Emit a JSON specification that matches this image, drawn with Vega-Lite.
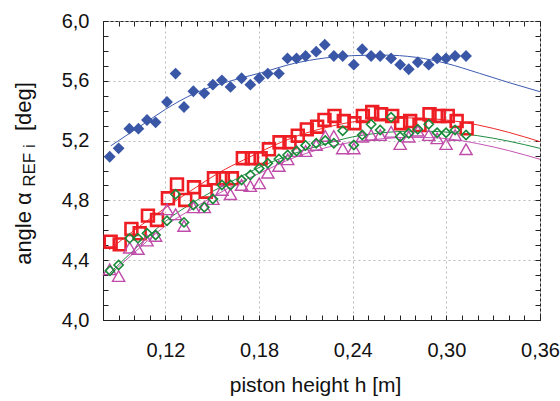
{
  "$schema": "https://vega.github.io/schema/vega-lite/v6.json",
  "width": 437,
  "height": 299,
  "autosize": "none",
  "padding": {"left": 103, "top": 21, "right": 20, "bottom": 81},
  "background": "white",
  "config": {
    "view": {"stroke": "#222", "strokeWidth": 1},
    "font": "Liberation Sans",
    "axis": {"labelFont": "Liberation Sans", "titleFont": "Liberation Sans", "labelColor": "#111", "titleColor": "#111", "titleFontWeight": "normal", "tickColor": "#222", "domainColor": "#222"}
  },
  "datasets": {
    "fit": [
      {"s": "B", "h": 0.085, "a": 5.165}, {"s": "B", "h": 0.1067, "a": 5.316}, {"s": "B", "h": 0.12, "a": 5.409}, {"s": "B", "h": 0.1387, "a": 5.516}, {"s": "B", "h": 0.16, "a": 5.594}, {"s": "B", "h": 0.1814, "a": 5.654}, {"s": "B", "h": 0.2027, "a": 5.717}, {"s": "B", "h": 0.2219, "a": 5.752}, {"s": "B", "h": 0.2394, "a": 5.768}, {"s": "B", "h": 0.2593, "a": 5.772}, {"s": "B", "h": 0.2806, "a": 5.757}, {"s": "B", "h": 0.2998, "a": 5.717}, {"s": "B", "h": 0.3212, "a": 5.65}, {"s": "B", "h": 0.3404, "a": 5.587}, {"s": "B", "h": 0.36, "a": 5.527},
      {"s": "R", "h": 0.084, "a": 4.47}, {"s": "R", "h": 0.10, "a": 4.60}, {"s": "R", "h": 0.12, "a": 4.75}, {"s": "R", "h": 0.14, "a": 4.89}, {"s": "R", "h": 0.155, "a": 4.99}, {"s": "R", "h": 0.17, "a": 5.07}, {"s": "R", "h": 0.19, "a": 5.17}, {"s": "R", "h": 0.206, "a": 5.237}, {"s": "R", "h": 0.22, "a": 5.28}, {"s": "R", "h": 0.24, "a": 5.325}, {"s": "R", "h": 0.26, "a": 5.348}, {"s": "R", "h": 0.275, "a": 5.352}, {"s": "R", "h": 0.29, "a": 5.347}, {"s": "R", "h": 0.30, "a": 5.338}, {"s": "R", "h": 0.32, "a": 5.305}, {"s": "R", "h": 0.34, "a": 5.255}, {"s": "R", "h": 0.36, "a": 5.193},
      {"s": "G", "h": 0.084, "a": 4.31}, {"s": "G", "h": 0.10, "a": 4.47}, {"s": "G", "h": 0.12, "a": 4.66}, {"s": "G", "h": 0.14, "a": 4.80}, {"s": "G", "h": 0.16, "a": 4.914}, {"s": "G", "h": 0.18, "a": 5.02}, {"s": "G", "h": 0.2027, "a": 5.115}, {"s": "G", "h": 0.22, "a": 5.17}, {"s": "G", "h": 0.24, "a": 5.225}, {"s": "G", "h": 0.26, "a": 5.253}, {"s": "G", "h": 0.275, "a": 5.263}, {"s": "G", "h": 0.29, "a": 5.262}, {"s": "G", "h": 0.30, "a": 5.257}, {"s": "G", "h": 0.32, "a": 5.233}, {"s": "G", "h": 0.34, "a": 5.196}, {"s": "G", "h": 0.36, "a": 5.148},
      {"s": "M", "h": 0.084, "a": 4.30}, {"s": "M", "h": 0.10, "a": 4.45}, {"s": "M", "h": 0.12, "a": 4.63}, {"s": "M", "h": 0.14, "a": 4.76}, {"s": "M", "h": 0.16, "a": 4.88}, {"s": "M", "h": 0.18, "a": 4.98}, {"s": "M", "h": 0.2059, "a": 5.10}, {"s": "M", "h": 0.22, "a": 5.145}, {"s": "M", "h": 0.24, "a": 5.19}, {"s": "M", "h": 0.26, "a": 5.213}, {"s": "M", "h": 0.275, "a": 5.222}, {"s": "M", "h": 0.29, "a": 5.22}, {"s": "M", "h": 0.30, "a": 5.213}, {"s": "M", "h": 0.32, "a": 5.18}, {"s": "M", "h": 0.34, "a": 5.133}, {"s": "M", "h": 0.36, "a": 5.075}
    ],
    "blue": [
      {"h": 0.0843, "a": 5.092}, {"h": 0.090, "a": 5.148}, {"h": 0.0969, "a": 5.280}, {"h": 0.1027, "a": 5.280}, {"h": 0.1082, "a": 5.338}, {"h": 0.1137, "a": 5.322}, {"h": 0.121, "a": 5.458}, {"h": 0.1265, "a": 5.648}, {"h": 0.1319, "a": 5.425}, {"h": 0.1379, "a": 5.530}, {"h": 0.1449, "a": 5.516}, {"h": 0.1504, "a": 5.574}, {"h": 0.1562, "a": 5.603}, {"h": 0.1617, "a": 5.559}, {"h": 0.1688, "a": 5.617}, {"h": 0.1744, "a": 5.574}, {"h": 0.1801, "a": 5.617}, {"h": 0.1856, "a": 5.648}, {"h": 0.1927, "a": 5.648}, {"h": 0.1982, "a": 5.750}, {"h": 0.2040, "a": 5.750}, {"h": 0.2098, "a": 5.766}, {"h": 0.2166, "a": 5.795}, {"h": 0.2221, "a": 5.841}, {"h": 0.2279, "a": 5.766}, {"h": 0.2336, "a": 5.766}, {"h": 0.2407, "a": 5.708}, {"h": 0.2461, "a": 5.811}, {"h": 0.2518, "a": 5.766}, {"h": 0.2576, "a": 5.766}, {"h": 0.2646, "a": 5.750}, {"h": 0.2704, "a": 5.708}, {"h": 0.2759, "a": 5.677}, {"h": 0.2817, "a": 5.724}, {"h": 0.2887, "a": 5.708}, {"h": 0.2941, "a": 5.750}, {"h": 0.2998, "a": 5.750}, {"h": 0.3056, "a": 5.766}, {"h": 0.3126, "a": 5.766}
    ],
    "red": [
      {"h": 0.0849, "a": 4.524}, {"h": 0.0907, "a": 4.506}, {"h": 0.0982, "a": 4.609}, {"h": 0.1035, "a": 4.580}, {"h": 0.1088, "a": 4.698}, {"h": 0.1146, "a": 4.669}, {"h": 0.1216, "a": 4.814}, {"h": 0.1274, "a": 4.907}, {"h": 0.1327, "a": 4.803}, {"h": 0.1383, "a": 4.888}, {"h": 0.1458, "a": 4.858}, {"h": 0.1511, "a": 4.948}, {"h": 0.1568, "a": 4.948}, {"h": 0.1626, "a": 4.948}, {"h": 0.1696, "a": 5.082}, {"h": 0.1754, "a": 5.082}, {"h": 0.1810, "a": 5.082}, {"h": 0.1863, "a": 5.142}, {"h": 0.1931, "a": 5.189}, {"h": 0.1995, "a": 5.189}, {"h": 0.2048, "a": 5.233}, {"h": 0.2106, "a": 5.275}, {"h": 0.2172, "a": 5.293}, {"h": 0.2219, "a": 5.338}, {"h": 0.2283, "a": 5.365}, {"h": 0.2343, "a": 5.331}, {"h": 0.2411, "a": 5.316}, {"h": 0.2465, "a": 5.365}, {"h": 0.2525, "a": 5.391}, {"h": 0.2582, "a": 5.376}, {"h": 0.2653, "a": 5.365}, {"h": 0.2710, "a": 5.316}, {"h": 0.2768, "a": 5.331}, {"h": 0.2828, "a": 5.304}, {"h": 0.2892, "a": 5.376}, {"h": 0.2951, "a": 5.365}, {"h": 0.3009, "a": 5.365}, {"h": 0.3066, "a": 5.331}, {"h": 0.3130, "a": 5.282}
    ],
    "green": [
      {"h": 0.0845, "a": 4.33}, {"h": 0.090, "a": 4.368}, {"h": 0.0971, "a": 4.546}, {"h": 0.1024, "a": 4.546}, {"h": 0.1082, "a": 4.580}, {"h": 0.1137, "a": 4.569}, {"h": 0.121, "a": 4.664}, {"h": 0.1265, "a": 4.841}, {"h": 0.1319, "a": 4.653}, {"h": 0.1379, "a": 4.769}, {"h": 0.1449, "a": 4.754}, {"h": 0.1504, "a": 4.809}, {"h": 0.1562, "a": 4.903}, {"h": 0.1617, "a": 4.903}, {"h": 0.1688, "a": 4.936}, {"h": 0.1744, "a": 4.970}, {"h": 0.1801, "a": 5.014}, {"h": 0.1856, "a": 5.048}, {"h": 0.1927, "a": 5.077}, {"h": 0.1983, "a": 5.104}, {"h": 0.2040, "a": 5.13}, {"h": 0.2098, "a": 5.168}, {"h": 0.2166, "a": 5.182}, {"h": 0.2224, "a": 5.20}, {"h": 0.2279, "a": 5.182}, {"h": 0.2336, "a": 5.266}, {"h": 0.2407, "a": 5.171}, {"h": 0.2461, "a": 5.237}, {"h": 0.2518, "a": 5.309}, {"h": 0.2576, "a": 5.271}, {"h": 0.2646, "a": 5.356}, {"h": 0.2704, "a": 5.226}, {"h": 0.2759, "a": 5.249}, {"h": 0.2817, "a": 5.276}, {"h": 0.2887, "a": 5.309}, {"h": 0.2941, "a": 5.253}, {"h": 0.2998, "a": 5.253}, {"h": 0.3056, "a": 5.271}, {"h": 0.3126, "a": 5.237}
    ],
    "mag": [
      {"h": 0.0843, "a": 4.339}, {"h": 0.090, "a": 4.294}, {"h": 0.0971, "a": 4.484}, {"h": 0.1024, "a": 4.475}, {"h": 0.1082, "a": 4.531}, {"h": 0.1137, "a": 4.562}, {"h": 0.121, "a": 4.740}, {"h": 0.1265, "a": 4.707}, {"h": 0.1319, "a": 4.629}, {"h": 0.1379, "a": 4.754}, {"h": 0.1449, "a": 4.754}, {"h": 0.1504, "a": 4.809}, {"h": 0.1562, "a": 4.870}, {"h": 0.1617, "a": 4.841}, {"h": 0.1688, "a": 4.903}, {"h": 0.1744, "a": 4.896}, {"h": 0.1801, "a": 4.914}, {"h": 0.1856, "a": 4.985}, {"h": 0.1927, "a": 5.030}, {"h": 0.1983, "a": 5.075}, {"h": 0.2040, "a": 5.130}, {"h": 0.2098, "a": 5.130}, {"h": 0.2166, "a": 5.171}, {"h": 0.2224, "a": 5.231}, {"h": 0.2279, "a": 5.231}, {"h": 0.2336, "a": 5.148}, {"h": 0.2407, "a": 5.148}, {"h": 0.2461, "a": 5.226}, {"h": 0.2518, "a": 5.237}, {"h": 0.2576, "a": 5.237}, {"h": 0.2646, "a": 5.259}, {"h": 0.2704, "a": 5.177}, {"h": 0.2759, "a": 5.226}, {"h": 0.2817, "a": 5.266}, {"h": 0.2887, "a": 5.237}, {"h": 0.2941, "a": 5.215}, {"h": 0.2998, "a": 5.177}, {"h": 0.3056, "a": 5.237}, {"h": 0.3126, "a": 5.142}
    ]
  },
  "layer": [
    {
      "data": {"name": "fit"},
      "mark": {"type": "line", "interpolate": "monotone", "strokeWidth": 1, "clip": true},
      "encoding": {
        "x": {
          "field": "h", "type": "quantitative",
          "scale": {"domain": [0.08, 0.36], "nice": false, "zero": false},
          "axis": {
            "orient": "bottom",
            "values": [0.08, 0.09, 0.10, 0.11, 0.12, 0.13, 0.14, 0.15, 0.16, 0.17, 0.18, 0.19, 0.20, 0.21, 0.22, 0.23, 0.24, 0.25, 0.26, 0.27, 0.28, 0.29, 0.30, 0.31, 0.32, 0.33, 0.34, 0.35, 0.36],
            "labelExpr": "round(datum.value*100) % 6 == 0 ? replace(format(datum.value, '.2f'), '.', ',') : ''",
            "labelFontSize": 20, "labelPadding": 25, "labelBaseline": "top", "labelOverlap": false, "labelFlush": false,
            "tickSize": -5, "domain": true,
            "grid": true, "gridColor": "#bbbbbb", "gridDash": [2, 3],
            "gridOpacity": {"condition": {"test": "round(datum.value*100) % 6 == 0", "value": 1}, "value": 0},
            "title": "piston height h [m]", "titleFontSize": 21, "titleX": 212, "titleY": 65, "titleAlign": "center", "titleBaseline": "middle"
          }
        },
        "y": {
          "field": "a", "type": "quantitative",
          "scale": {"domain": [4, 6], "nice": false, "zero": false},
          "axis": {
            "orient": "left",
            "values": [4.0, 4.1, 4.2, 4.3, 4.4, 4.5, 4.6, 4.7, 4.8, 4.9, 5.0, 5.1, 5.2, 5.3, 5.4, 5.5, 5.6, 5.7, 5.8, 5.9, 6.0],
            "labelExpr": "round(datum.value*10) % 4 == 0 ? replace(format(datum.value, '.1f'), '.', ',') : ''",
            "labelFontSize": 20, "labelPadding": 19, "labelOverlap": false, "labelFlush": false,
            "tickSize": -5, "domain": true,
            "grid": true, "gridColor": "#bbbbbb", "gridDash": [2, 3],
            "gridOpacity": {"condition": {"test": "round(datum.value*10) % 4 == 0", "value": 1}, "value": 0},
            "title": "angle α\u00a0\u00a0\u00a0\u00a0\u00a0\u00a0\u00a0\u00a0\u00a0\u00a0[deg]", "titleFontSize": 22, "titleX": -80, "titleY": 152, "titleAngle": 270, "titleAlign": "center", "titleBaseline": "middle"
          }
        },
        "color": {"field": "s", "type": "nominal", "scale": {"domain": ["B", "R", "G", "M"], "range": ["#3d5bb0", "#ee2a2a", "#1f8c40", "#c456b4"]}, "legend": null}
      }
    },
    {
      "encoding": {
        "x": {
          "field": "h", "type": "quantitative",
          "scale": {"domain": [0.08, 0.36], "nice": false, "zero": false},
          "axis": {
            "orient": "top",
            "values": [0.08, 0.09, 0.10, 0.11, 0.12, 0.13, 0.14, 0.15, 0.16, 0.17, 0.18, 0.19, 0.20, 0.21, 0.22, 0.23, 0.24, 0.25, 0.26, 0.27, 0.28, 0.29, 0.30, 0.31, 0.32, 0.33, 0.34, 0.35, 0.36],
            "labels": false, "tickSize": -5, "domain": false, "grid": false, "title": null
          }
        },
        "y": {
          "field": "a", "type": "quantitative",
          "scale": {"domain": [4, 6], "nice": false, "zero": false},
          "axis": {
            "orient": "right",
            "values": [4.0, 4.1, 4.2, 4.3, 4.4, 4.5, 4.6, 4.7, 4.8, 4.9, 5.0, 5.1, 5.2, 5.3, 5.4, 5.5, 5.6, 5.7, 5.8, 5.9, 6.0],
            "labels": false, "tickSize": -5, "domain": false, "grid": false,
            "title": "REF i", "titleFontSize": 17, "titleX": -511, "titleY": 144, "titleAngle": 270, "titleAlign": "center", "titleBaseline": "middle"
          }
        }
      },
      "layer": [
        {"data": {"name": "blue"}, "mark": {"type": "point", "shape": "diamond", "filled": true, "size": 140, "color": "#3a56a6", "opacity": 1}},
        {"data": {"name": "red"}, "mark": {"type": "point", "shape": "square", "filled": false, "size": 140, "stroke": "#ee1d24", "strokeWidth": 2.6, "opacity": 1}},
        {"data": {"name": "mag"}, "mark": {"type": "point", "shape": "triangle-up", "filled": false, "size": 150, "stroke": "#c04caa", "strokeWidth": 1.4, "opacity": 1}},
        {"data": {"name": "green"}, "mark": {"type": "point", "shape": "diamond", "filled": false, "size": 85, "stroke": "#188a38", "strokeWidth": 1.6, "opacity": 1}}
      ]
    }
  ],
  "resolve": {"axis": {"x": "independent", "y": "independent"}}
}
